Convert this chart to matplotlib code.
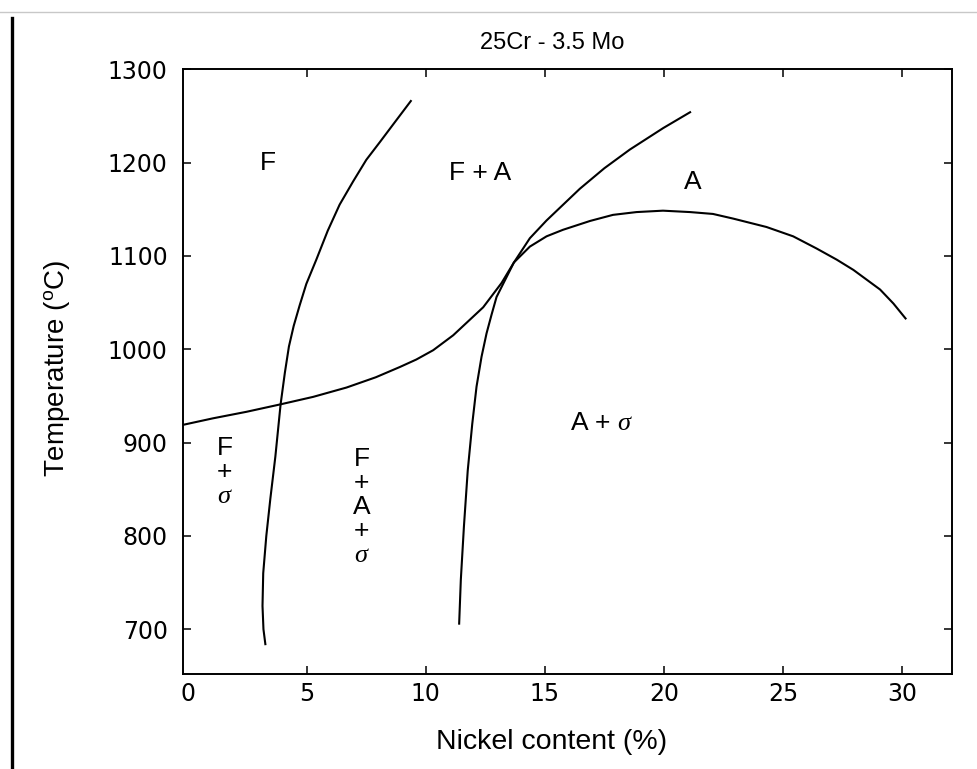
import matplotlib
matplotlib.use('Agg')
import matplotlib.pyplot as plt
from matplotlib.lines import Line2D

plt.rcParams['mathtext.fontset'] = 'custom'
plt.rcParams['mathtext.rm'] = 'Liberation Sans'
plt.rcParams['mathtext.it'] = 'Liberation Serif:italic'

# phase boundaries: (Ni %, T degC)
ferrite_ni = [3.26, 3.18, 3.14, 3.17, 3.3, 3.47, 3.68, 3.9, 4.08, 4.25, 4.45,
              4.7, 4.98, 5.4, 5.88, 6.38, 6.95, 7.5, 8.07, 8.63, 9.37]
ferrite_t = [684, 700, 725, 760, 800, 840, 885, 941, 975, 1003, 1025,
             1047, 1070, 1096, 1127, 1155, 1180, 1203, 1222, 1241, 1266]

sigma_ni = [-0.2, 1.06, 2.47, 3.9, 5.27, 6.67, 7.9, 8.91, 9.6, 10.31,
            11.15, 12.41, 13.18, 13.7, 14.37, 15.07, 15.76, 16.9, 17.86,
            18.85, 19.96, 21.1, 22.06, 22.91, 24.31, 25.43, 26.41, 27.26,
            27.96, 29.08, 29.64, 30.15]
sigma_t = [919, 926, 933, 941, 949, 959, 970, 981, 989, 999,
           1015, 1045, 1071, 1093, 1110, 1121, 1128, 1137.5, 1144,
           1147, 1148.5, 1147, 1145, 1140, 1131, 1121, 1108, 1096,
           1085, 1064, 1049, 1033]

austenite_ni = [11.4, 11.47, 11.6, 11.76, 11.95, 12.13, 12.34, 12.55, 12.76,
                12.97, 13.7, 14.37, 15.07, 16.47, 17.5, 18.57, 19.97, 21.1]
austenite_t = [706, 753, 810, 870, 920, 960, 992, 1017, 1037,
               1056, 1093, 1119, 1138, 1172, 1194, 1214, 1237, 1254]

# region labels
region_text = ['F', 'F + A', 'A', 'A + $\\sigma$', 'F\n+\n$\\sigma$',
               'F\n+\nA\n+\n$\\sigma$']
region_ni = [3.35, 12.3, 21.2, 17.4, 1.55, 7.3]
region_t = [1200, 1189, 1179, 921, 869, 831]

x_ticks = [0, 5, 10, 15, 20, 25, 30]
y_ticks = [700, 800, 900, 1000, 1100, 1200, 1300]

fig = plt.figure(figsize=(9.78, 7.69), dpi=100)
ax = fig.add_axes([0.1871, 0.1235, 0.7863, 0.7864])

for ni, t in [(ferrite_ni, ferrite_t), (sigma_ni, sigma_t),
              (austenite_ni, austenite_t)]:
    ax.plot(ni, t, color='black', linewidth=1.5, solid_joinstyle='round')

for s, x, y in zip(region_text, region_ni, region_t):
    ax.text(x, y, s, ha='center', va='center', fontsize=19,
            family='Liberation Sans', linespacing=1.0)

ax.set_xlim(-0.2, 32.1)
ax.set_ylim(652, 1300)
ax.set_xticks(x_ticks)
ax.set_yticks(y_ticks)
ax.tick_params(direction='in', length=6, width=1.1, top=True, right=True,
               labelsize=17)
ax.tick_params(axis='x', pad=6)
ax.tick_params(axis='y', pad=11)
# no tick mark at 0, only the label
ax.xaxis.get_major_ticks()[0].tick1line.set_visible(False)
ax.xaxis.get_major_ticks()[0].tick2line.set_visible(False)
for sp in ax.spines.values():
    sp.set_linewidth(1.4)

fig.text(552 / 978, 1 - 43 / 769, '25Cr - 3.5 Mo', ha='center', va='center',
         fontsize=17, family='Liberation Sans')
fig.text(552 / 978, 1 - 742 / 769, 'Nickel content (%)', ha='center',
         va='center', fontsize=20.5, family='Liberation Sans')
fig.text(57 / 978, 1 - 368 / 769, 'Temperature ($^{\\rm o}$C)', ha='center',
         va='center', rotation=90, fontsize=20, family='Liberation Sans')

# page edges from the scan
fig.add_artist(Line2D([12 / 978, 12 / 978], [0, 1 - 18 / 769],
                      color='black', linewidth=2.4))
fig.add_artist(Line2D([0, 1], [1 - 12 / 769, 1 - 12 / 769],
                      color='#c8c8c8', linewidth=1.0))

fig.savefig('out.png', dpi=100)
